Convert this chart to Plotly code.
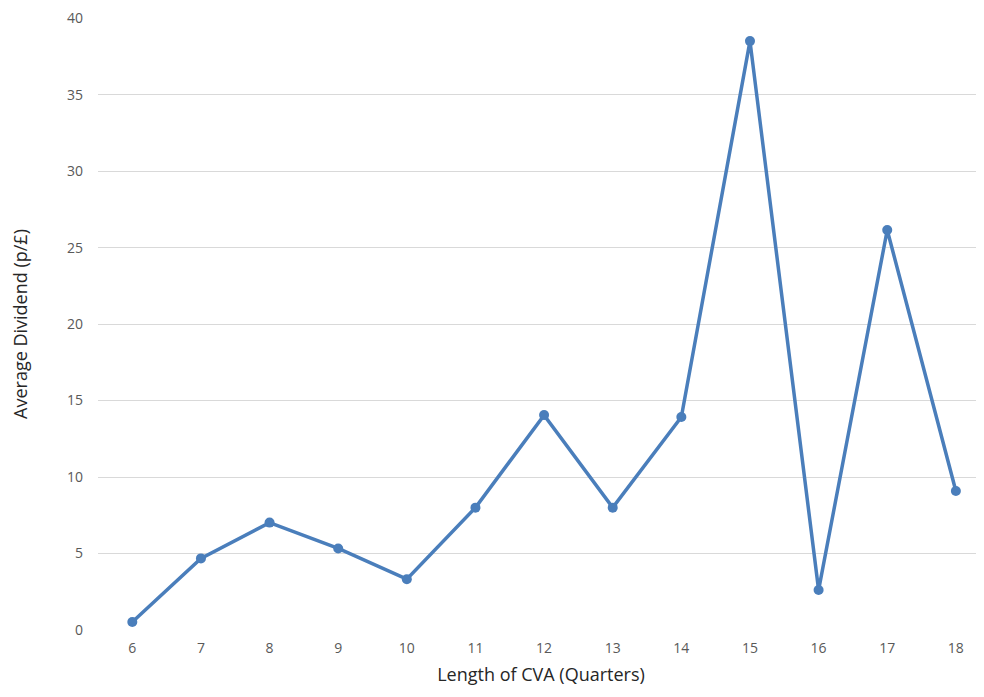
import plotly.graph_objects as go

quarters = [6, 7, 8, 9, 10, 11, 12, 13, 14, 15, 16, 17, 18]
avg_dividend = [0.52, 4.68, 7.02, 5.33, 3.32, 8.0, 14.05, 8.0, 13.92, 38.5, 2.61, 26.15, 9.09]
y_ticks = [0, 5, 10, 15, 20, 25, 30, 35, 40]

fig = go.Figure()
fig.add_trace(go.Scatter(
    x=quarters, y=avg_dividend, mode="lines+markers",
    line=dict(color="#4a7ebb", width=3.5),
    marker=dict(color="#4a7ebb", size=10),
    showlegend=False,
))

font_family = "Open Sans, Noto Sans, sans-serif"
fig.update_layout(
    width=976, height=681,
    margin=dict(l=90, r=0, t=7, b=59),
    plot_bgcolor="white", paper_bgcolor="white",
    font=dict(family=font_family, color="#595959", size=14),
    xaxis=dict(
        range=[5.5, 18.41], tickvals=quarters, ticktext=[str(q) for q in quarters],
        showgrid=False, zeroline=False, showline=False, ticks="",
        ticklabelstandoff=8,
        title=dict(text="Length of CVA (Quarters)", font=dict(size=18, color="#262626"), standoff=12),
    ),
    yaxis=dict(
        range=[0, 40.01], tickvals=y_ticks, showgrid=True, gridcolor="#d9d9d9", gridwidth=1,
        zeroline=False, showline=False, ticks="", ticklabelstandoff=14,
        ticklabeloverflow="allow",
        title=dict(text="Average Dividend (p/£)", font=dict(size=18, color="#262626"), standoff=44),
    ),
)
fig.write_html("out.html")
